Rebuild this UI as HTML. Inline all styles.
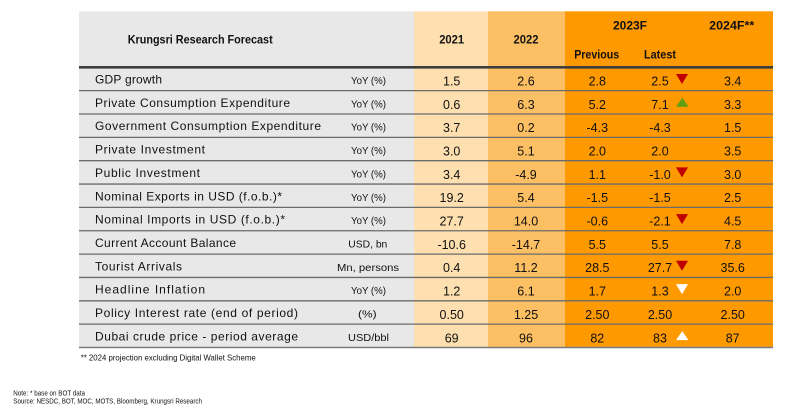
<!DOCTYPE html>
<html><head><meta charset="utf-8"><style>
html,body{margin:0;padding:0;background:#fff;}
svg{display:block;}
text{font-family:"Liberation Sans",Arial,sans-serif;fill:#111;}
.lb{font-size:12px;}
.un{font-size:10.5px;}
.v{font-size:12.5px;text-anchor:middle;}
.h{font-size:12px;font-weight:bold;text-anchor:middle;}
</style></head><body>
<svg width="800" height="410" viewBox="0 0 800 410" xmlns="http://www.w3.org/2000/svg">
<rect x="0" y="0" width="800" height="410" fill="#fff"/>
<rect x="79" y="11.3" width="335" height="336.2" fill="#e8e8e8"/>
<rect x="414" y="11.3" width="74" height="336.2" fill="#fddfb0"/>
<rect x="488" y="11.3" width="77" height="336.2" fill="#fdbf63"/>
<rect x="565" y="11.3" width="208" height="336.2" fill="#ff9900"/>

<!-- header text -->
<text x="127.7" y="43.5" font-size="12" font-weight="bold" textLength="145" lengthAdjust="spacingAndGlyphs">Krungsri Research Forecast</text>
<text class="h" x="451.7" y="43.5" textLength="25" lengthAdjust="spacingAndGlyphs">2021</text>
<text class="h" x="526" y="43.5" textLength="25" lengthAdjust="spacingAndGlyphs">2022</text>
<text class="h" x="630" y="29.5" textLength="34" lengthAdjust="spacingAndGlyphs">2023F</text>
<text class="h" x="731.7" y="29.5" textLength="45" lengthAdjust="spacingAndGlyphs">2024F**</text>
<text class="h" x="596.7" y="58.5" textLength="45" lengthAdjust="spacingAndGlyphs">Previous</text>
<text class="h" x="660" y="58.5" textLength="32" lengthAdjust="spacingAndGlyphs">Latest</text>

<!-- row lines -->
<g stroke="#6b6b6b" stroke-width="1.3">
<line x1="79" x2="773" y1="90.65" y2="90.65"/>
<line x1="79" x2="773" y1="114" y2="114"/>
<line x1="79" x2="773" y1="137.35" y2="137.35"/>
<line x1="79" x2="773" y1="160.7" y2="160.7"/>
<line x1="79" x2="773" y1="184.05" y2="184.05"/>
<line x1="79" x2="773" y1="207.4" y2="207.4"/>
<line x1="79" x2="773" y1="230.75" y2="230.75"/>
<line x1="79" x2="773" y1="254.1" y2="254.1"/>
<line x1="79" x2="773" y1="277.45" y2="277.45"/>
<line x1="79" x2="773" y1="300.8" y2="300.8"/>
<line x1="79" x2="773" y1="324.15" y2="324.15"/>
</g>
<line x1="79" x2="773" y1="347.5" y2="347.5" stroke="#7a7a7a" stroke-width="1.6"/>
<line x1="79" x2="773" y1="67.3" y2="67.3" stroke="#3d3d3d" stroke-width="2.6"/>

<!-- labels -->
<g class="lb">
<text x="95" y="83.5" textLength="67" lengthAdjust="spacing">GDP growth</text>
<text x="95" y="106.85" textLength="195" lengthAdjust="spacing">Private Consumption Expenditure</text>
<text x="95" y="130.2" textLength="226" lengthAdjust="spacing">Government Consumption Expenditure</text>
<text x="95" y="153.55" textLength="110" lengthAdjust="spacing">Private Investment</text>
<text x="95" y="176.9" textLength="105" lengthAdjust="spacing">Public Investment</text>
<text x="95" y="200.25" textLength="187" lengthAdjust="spacing">Nominal Exports in USD (f.o.b.)*</text>
<text x="95" y="223.6" textLength="190" lengthAdjust="spacing">Nominal Imports in USD (f.o.b.)*</text>
<text x="95" y="246.95" textLength="141" lengthAdjust="spacing">Current Account Balance</text>
<text x="95" y="270.3" textLength="87" lengthAdjust="spacing">Tourist Arrivals</text>
<text x="95" y="293.65" textLength="110" lengthAdjust="spacing">Headline Inflation</text>
<text x="95" y="317" textLength="203" lengthAdjust="spacing">Policy Interest rate (end of period)</text>
<text x="95" y="340.35" textLength="203" lengthAdjust="spacing">Dubai crude price - period average</text>
</g>

<!-- units -->
<g class="un">
<text x="351" y="84" textLength="35" lengthAdjust="spacingAndGlyphs">YoY (%)</text>
<text x="351" y="107.35" textLength="35" lengthAdjust="spacingAndGlyphs">YoY (%)</text>
<text x="351" y="130.7" textLength="35" lengthAdjust="spacingAndGlyphs">YoY (%)</text>
<text x="351" y="154.05" textLength="35" lengthAdjust="spacingAndGlyphs">YoY (%)</text>
<text x="351" y="177.4" textLength="35" lengthAdjust="spacingAndGlyphs">YoY (%)</text>
<text x="351" y="200.75" textLength="35" lengthAdjust="spacingAndGlyphs">YoY (%)</text>
<text x="351" y="224.1" textLength="35" lengthAdjust="spacingAndGlyphs">YoY (%)</text>
<text x="348.3" y="247.45" textLength="39" lengthAdjust="spacingAndGlyphs">USD, bn</text>
<text x="337" y="270.8" textLength="62" lengthAdjust="spacingAndGlyphs">Mn, persons</text>
<text x="351" y="294.15" textLength="35" lengthAdjust="spacingAndGlyphs">YoY (%)</text>
<text x="358" y="317.5" textLength="18.7" lengthAdjust="spacingAndGlyphs">(%)</text>
<text x="348" y="340.85" textLength="41" lengthAdjust="spacingAndGlyphs">USD/bbl</text>
</g>

<!-- values -->
<g class="v">
<text x="451.7" y="85.4">1.5</text><text x="526" y="85.4">2.6</text><text x="597.3" y="85.4">2.8</text><text x="660" y="85.4">2.5</text><text x="732.7" y="85.4">3.4</text>
<text x="451.7" y="108.75">0.6</text><text x="526" y="108.75">6.3</text><text x="597.3" y="108.75">5.2</text><text x="660" y="108.75">7.1</text><text x="732.7" y="108.75">3.3</text>
<text x="451.7" y="132.1">3.7</text><text x="526" y="132.1">0.2</text><text x="597.3" y="132.1">-4.3</text><text x="660" y="132.1">-4.3</text><text x="732.7" y="132.1">1.5</text>
<text x="451.7" y="155.45">3.0</text><text x="526" y="155.45">5.1</text><text x="597.3" y="155.45">2.0</text><text x="660" y="155.45">2.0</text><text x="732.7" y="155.45">3.5</text>
<text x="451.7" y="178.8">3.4</text><text x="526" y="178.8">-4.9</text><text x="597.3" y="178.8">1.1</text><text x="660" y="178.8">-1.0</text><text x="732.7" y="178.8">3.0</text>
<text x="451.7" y="202.15">19.2</text><text x="526" y="202.15">5.4</text><text x="597.3" y="202.15">-1.5</text><text x="660" y="202.15">-1.5</text><text x="732.7" y="202.15">2.5</text>
<text x="451.7" y="225.5">27.7</text><text x="526" y="225.5">14.0</text><text x="597.3" y="225.5">-0.6</text><text x="660" y="225.5">-2.1</text><text x="732.7" y="225.5">4.5</text>
<text x="451.7" y="248.85">-10.6</text><text x="526" y="248.85">-14.7</text><text x="597.3" y="248.85">5.5</text><text x="660" y="248.85">5.5</text><text x="732.7" y="248.85">7.8</text>
<text x="451.7" y="272.2">0.4</text><text x="526" y="272.2">11.2</text><text x="597.3" y="272.2">28.5</text><text x="660" y="272.2">27.7</text><text x="732.7" y="272.2">35.6</text>
<text x="451.7" y="295.55">1.2</text><text x="526" y="295.55">6.1</text><text x="597.3" y="295.55">1.7</text><text x="660" y="295.55">1.3</text><text x="732.7" y="295.55">2.0</text>
<text x="451.7" y="318.9">0.50</text><text x="526" y="318.9">1.25</text><text x="597.3" y="318.9">2.50</text><text x="660" y="318.9">2.50</text><text x="732.7" y="318.9">2.50</text>
<text x="451.7" y="342.25">69</text><text x="526" y="342.25">96</text><text x="597.3" y="342.25">82</text><text x="660" y="342.25">83</text><text x="732.7" y="342.25">87</text>
</g>

<!-- triangles -->
<polygon points="676,74 688,74 682,84" fill="#c00000"/>
<polygon points="676,106.7 688.5,106.7 682.2,97.7" fill="#5f9e14"/>
<polygon points="676,167.4 688,167.4 682,177.4" fill="#c00000"/>
<polygon points="676,214.1 688,214.1 682,224.1" fill="#c00000"/>
<polygon points="676,260.8 688,260.8 682,270.8" fill="#c00000"/>
<polygon points="676,284.15 688,284.15 682,294.15" fill="#ffffff"/>
<polygon points="676,340.15 688.5,340.15 682.2,331.15" fill="#ffffff"/>

<!-- notes -->
<text x="80.7" y="360.5" font-size="8.5" textLength="175" lengthAdjust="spacingAndGlyphs">** 2024 projection excluding Digital Wallet Scheme</text>
<text x="13.3" y="395.5" font-size="7" textLength="71.7" lengthAdjust="spacingAndGlyphs">Note: * base on BOT data</text>
<text x="13.3" y="403.3" font-size="7" textLength="188.7" lengthAdjust="spacingAndGlyphs">Source: NESDC, BOT, MOC, MOTS, Bloomberg, Krungsri Research</text>
</svg>
</body></html>
